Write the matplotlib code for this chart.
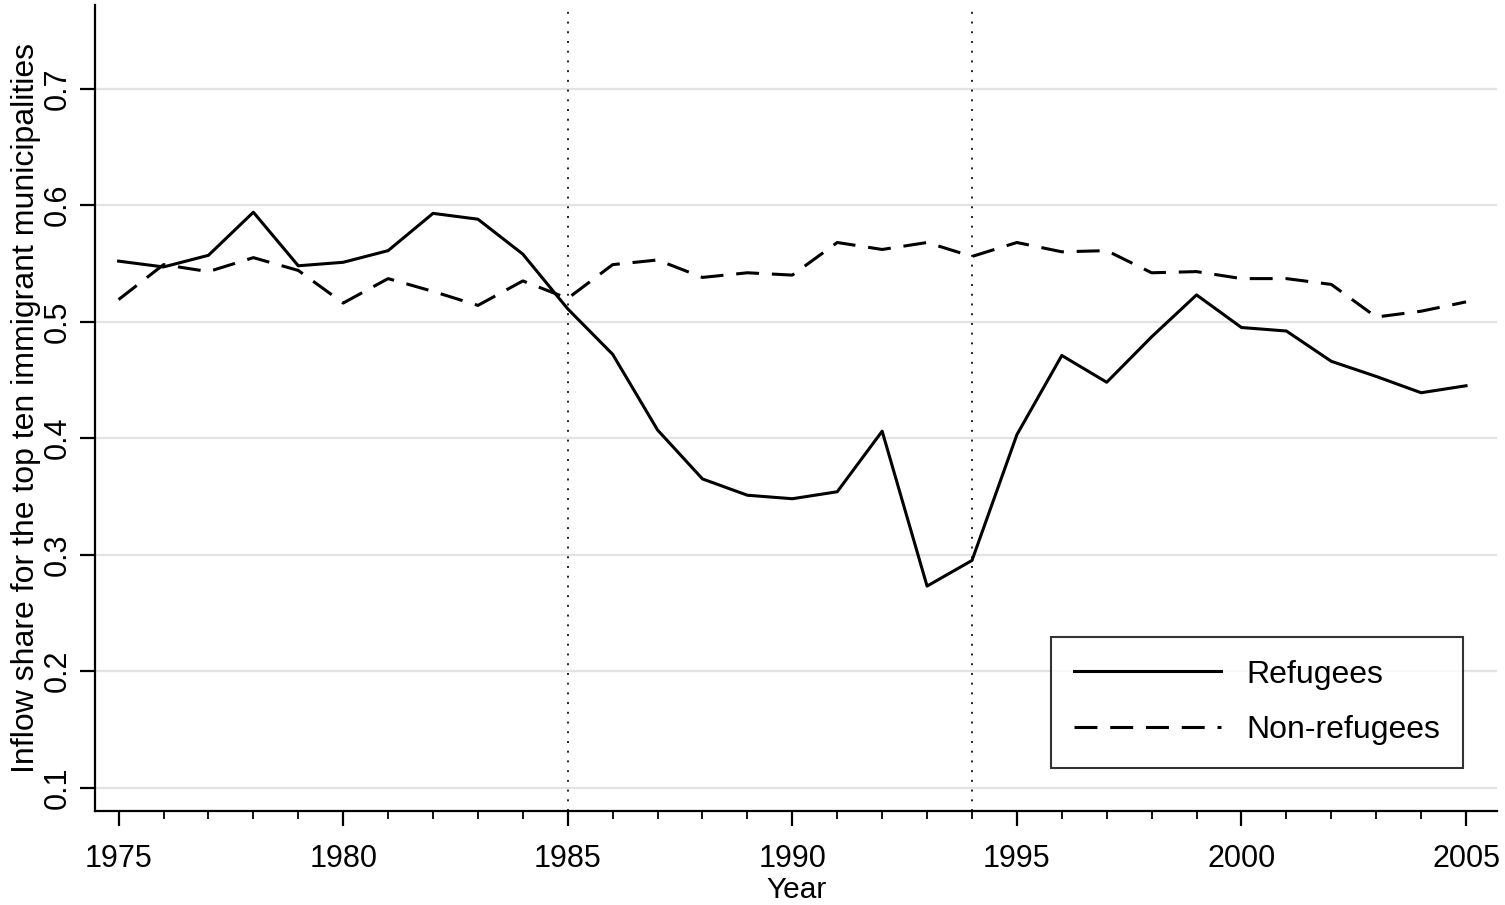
import numpy as np
import matplotlib
matplotlib.use("Agg")
import matplotlib.pyplot as plt

plt.rcParams['font.family'] = ['Liberation Sans', 'DejaVu Sans']

years = list(range(1975, 2006))
refugees = [0.552, 0.547, 0.557, 0.594, 0.548, 0.551, 0.561, 0.593, 0.588, 0.558,
            0.511, 0.472, 0.407, 0.365, 0.351, 0.348, 0.354, 0.406, 0.273, 0.295,
            0.403, 0.471, 0.448, 0.487, 0.523, 0.495, 0.492, 0.466, 0.453, 0.439,
            0.445]
non_refugees = [0.519, 0.549, 0.543, 0.555, 0.544, 0.516, 0.537, 0.526, 0.514, 0.535,
                0.520, 0.549, 0.553, 0.538, 0.542, 0.540, 0.568, 0.562, 0.568, 0.556,
                0.568, 0.560, 0.561, 0.542, 0.543, 0.537, 0.537, 0.532, 0.504, 0.509,
                0.517]
event_years = [1985, 1994]
yticks = [0.1, 0.2, 0.3, 0.4, 0.5, 0.6, 0.7]
xticks = [1975, 1980, 1985, 1990, 1995, 2000, 2005]

fig = plt.figure(figsize=(15.05, 9.05), dpi=100)
ax = fig.add_axes([0.063, 0.104, 0.932, 0.8906])

for y in yticks:
    ax.axhline(y, color='#e3e3e3', lw=1.6, zorder=0)
for x in event_years:
    ax.axvline(x, color='#222222', lw=1.4, linestyle=(0, (1, 4)), zorder=1)

ax.plot(years, refugees, color='black', lw=2.2, label='Refugees')
ax.plot(years, non_refugees, color='black', lw=2.2, dashes=(7.5, 4.2), label='Non-refugees')

ax.set_xlim(1974.47, 2005.7)
ax.set_ylim(0.080, 0.772)
ax.set_xticks(xticks)
ax.set_xticks(years, minor=True)
ax.set_yticks(yticks)
ax.set_yticklabels([f'{v:.1f}' for v in yticks], rotation=90, va='center')
ax.tick_params(axis='both', which='major', length=11, width=1.6, labelsize=22)
ax.tick_params(axis='x', which='minor', length=6, width=1.3)
ax.tick_params(axis='x', pad=13)
ax.tick_params(axis='y', pad=5)

for s in ['top', 'right']:
    ax.spines[s].set_visible(False)
for s in ['left', 'bottom']:
    ax.spines[s].set_linewidth(1.6)

ax.set_xlabel('Year', fontsize=21.5, labelpad=1)
ax.set_ylabel('Inflow share for the top ten immigrant municipalities', fontsize=23, labelpad=1)

leg = ax.legend(loc='lower right', bbox_to_anchor=(0.9757, 0.053), fontsize=23,
                frameon=True, fancybox=False, edgecolor='black', handlelength=4.6,
                handletextpad=0.8, borderpad=0.72, labelspacing=0.8, borderaxespad=0)
leg.get_frame().set_linewidth(1.5)

fig.savefig('out.png', dpi=100)
